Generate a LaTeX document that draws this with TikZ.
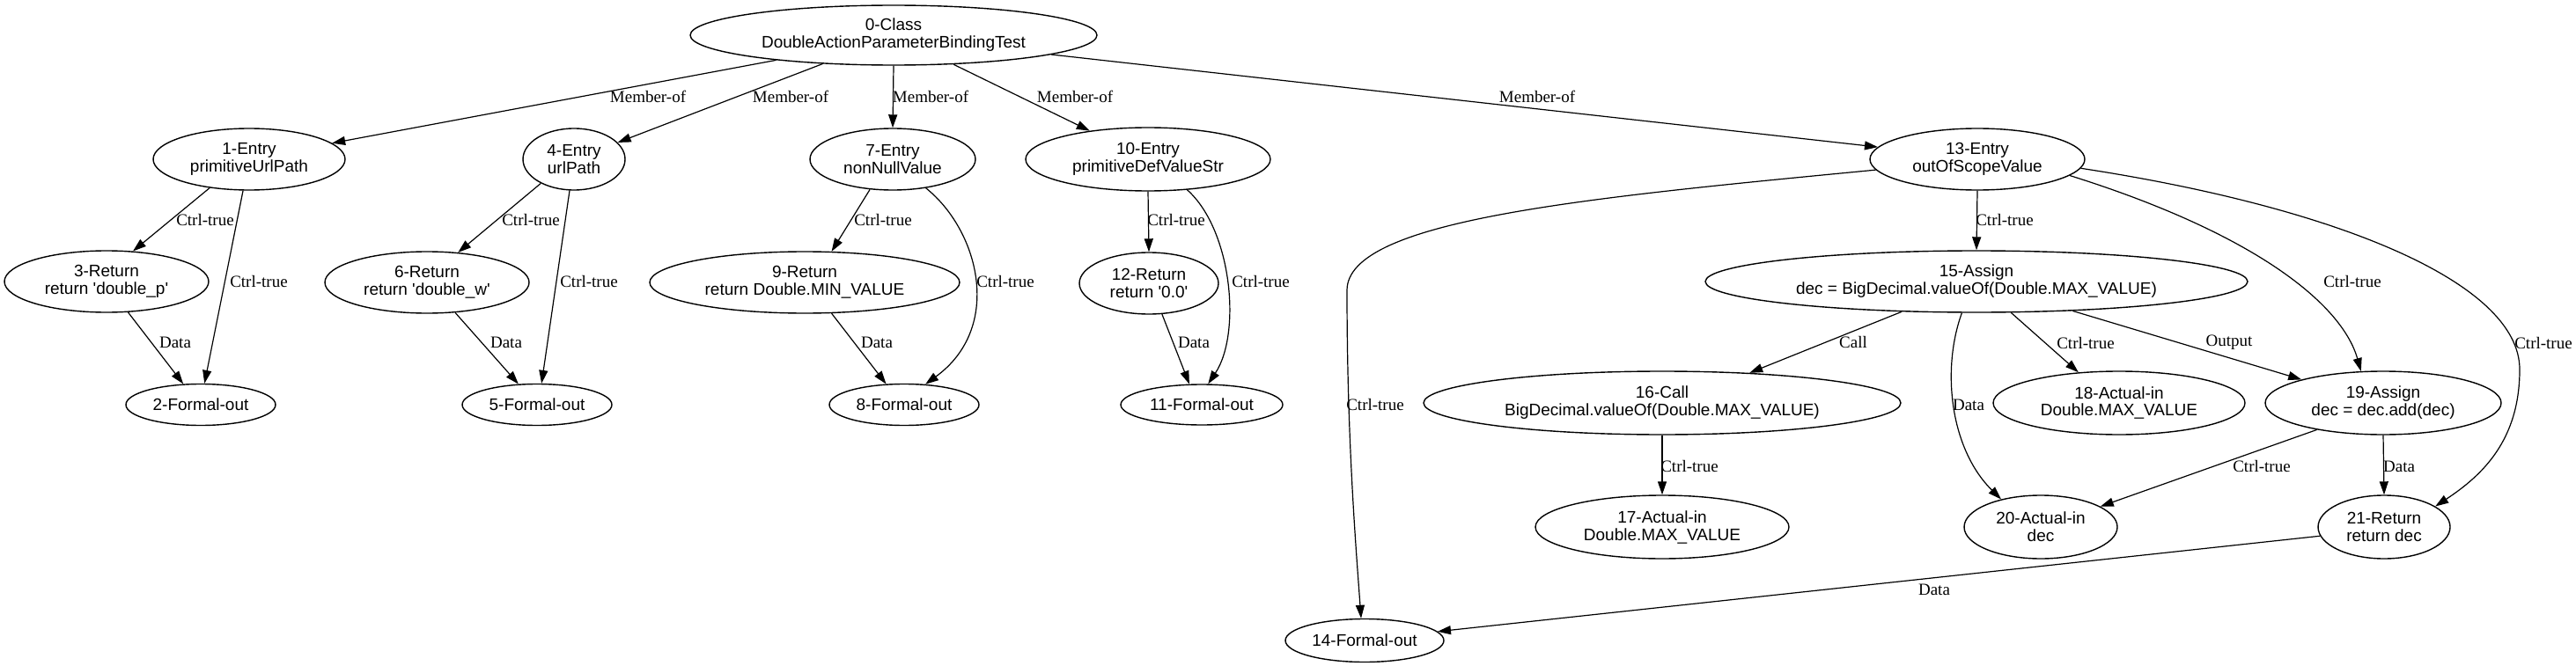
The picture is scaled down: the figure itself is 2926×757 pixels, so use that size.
\documentclass[tikz,border=0pt]{standalone}
\usepackage{fontspec}
\setmainfont{Liberation Serif}
\newfontfamily\nodefont{Liberation Sans}
\usetikzlibrary{arrows.meta,shapes.geometric}
\begin{document}
\begin{tikzpicture}[x=1pt,y=-1pt,
  nd/.style={draw, ellipse, line width=1.4pt, inner sep=0pt, align=center,
    font={\nodefont\fontsize{19}{20}\selectfont}},
  ed/.style={-{Triangle[length=15pt,width=10pt]}, line width=1.2pt},
  lb/.style={inner sep=0pt, font={\fontsize{19}{20}\selectfont}}]
\useasboundingbox (0,0) rectangle (2926,757);
% nodes
\node[nd, minimum width=462pt, minimum height=68pt] (n0) at (1015,40) {0-Class\\DoubleActionParameterBindingTest};
\node[nd, minimum width=218pt, minimum height=70pt] (n1) at (283,181) {1-Entry\\primitiveUrlPath};
\node[nd, minimum width=116pt, minimum height=70pt] (n4) at (652,181) {4-Entry\\urlPath};
\node[nd, minimum width=188pt, minimum height=70pt] (n7) at (1014,181) {7-Entry\\nonNullValue};
\node[nd, minimum width=278pt, minimum height=72pt] (n10) at (1304,181) {10-Entry\\primitiveDefValueStr};
\node[nd, minimum width=244pt, minimum height=70pt] (n13) at (2246,181) {13-Entry\\outOfScopeValue};
\node[nd, minimum width=232pt, minimum height=70pt] (n3) at (121,320) {3-Return\\return \textquotesingle double\_p\textquotesingle};
\node[nd, minimum width=232pt, minimum height=70pt] (n6) at (485,321) {6-Return\\return \textquotesingle double\_w\textquotesingle};
\node[nd, minimum width=352pt, minimum height=70pt] (n9) at (914,321) {9-Return\\return Double.MIN\_VALUE};
\node[nd, minimum width=158pt, minimum height=70pt] (n12) at (1305,322) {12-Return\\return \textquotesingle 0.0\textquotesingle};
\node[nd, minimum width=616pt, minimum height=70pt] (n15) at (2245,320) {15-Assign\\dec = BigDecimal.valueOf(Double.MAX\_VALUE)};
\node[nd, minimum width=170pt, minimum height=47pt] (n2) at (228,460) {2-Formal-out};
\node[nd, minimum width=170pt, minimum height=47pt] (n5) at (610,460) {5-Formal-out};
\node[nd, minimum width=170pt, minimum height=47pt] (n8) at (1027,460) {8-Formal-out};
\node[nd, minimum width=184pt, minimum height=46pt] (n11) at (1365,460) {11-Formal-out};
\node[nd, minimum width=542pt, minimum height=72pt] (n16) at (1888,458) {16-Call\\BigDecimal.valueOf(Double.MAX\_VALUE)};
\node[nd, minimum width=286pt, minimum height=72pt] (n18) at (2407,458) {18-Actual-in\\Double.MAX\_VALUE};
\node[nd, minimum width=268pt, minimum height=72pt] (n19) at (2707,458) {19-Assign\\dec = dec.add(dec)};
\node[nd, minimum width=288pt, minimum height=72pt] (n17) at (1888,599) {17-Actual-in\\Double.MAX\_VALUE};
\node[nd, minimum width=174pt, minimum height=72pt] (n20) at (2318,599) {20-Actual-in\\dec};
\node[nd, minimum width=150pt, minimum height=72pt] (n21) at (2708,599) {21-Return\\return dec};
\node[nd, minimum width=180pt, minimum height=49pt] (n14) at (1550,728) {14-Formal-out};
% edges
\draw[ed] (n0.192) -- (n1.11);
\draw[ed] (n0.202) -- (n4.21);
\draw[ed] (n0.south) -- (n7.north);
\draw[ed] (n0.334) -- (n10.154);
\draw[ed] (n0.353) -- (n13.173);
\draw[ed] (n1.216) -- (n3.49);
\draw[ed] (n1.259) -- (n2.80);
\draw[ed] (n3.305) -- (n2.130);
\draw[ed] (n4.216) -- (n6.44);
\draw[ed] (n4.262) -- (n5.78);
\draw[ed] (n6.313) -- (n5.132);
\draw[ed] (n7.233) -- (n9.49);
\draw[ed] (n7.319) .. controls (1112,262) and (1140,372) .. (n8.44);
\draw[ed] (n9.311) -- (n8.131);
\draw[ed] (n10.south) -- (n12.north);
\draw[ed] (n10.322) .. controls (1400,262) and (1410,380) .. (n11.73);
\draw[ed] (n12.293) -- (n11.121);
\draw[ed] (n13.south) -- (n15.north);
\draw[ed] (n13.186) .. controls (1800,225) and (1530,250) .. (1530,330)
  .. controls (1530,500) and (1540,620) .. (n14.99);
\draw[ed] (n13.350) .. controls (2560,265) and (2660,345) .. (n19.125);
\draw[ed] (n13.355) .. controls (2650,235) and (2862,320) .. (2862,420)
  .. controls (2862,500) and (2820,540) .. (n21.22);
\draw[ed] (n15.202) -- (n16.19);
\draw[ed] (n15.245) .. controls (2205,420) and (2215,510) .. (n20.145);
\draw[ed] (n15.318) -- (n18.143);
\draw[ed] (n15.343) -- (n19.164);
\draw[ed] (n16.south) -- (n17.north);
\draw[ed] (n19.202) -- (n20.19);
\draw[ed] (n19.south) -- (n21.north);
\draw[ed] (n21.188) -- (n14.7);
% labels
\node[lb] (l1) at (736,110) {Member-of};
\node[lb] (l2) at (898,110) {Member-of};
\node[lb] (l3) at (1057,110) {Member-of};
\node[lb] (l4) at (1221,110) {Member-of};
\node[lb] (l5) at (1746,110) {Member-of};
\node[lb] (l6) at (233,250) {Ctrl-true};
\node[lb] (l7) at (294,320) {Ctrl-true};
\node[lb] (l8) at (603,250) {Ctrl-true};
\node[lb] (l9) at (669,320) {Ctrl-true};
\node[lb] (l10) at (1003,250) {Ctrl-true};
\node[lb] (l11) at (1142,320) {Ctrl-true};
\node[lb] (l12) at (1336,250) {Ctrl-true};
\node[lb] (l13) at (1432,320) {Ctrl-true};
\node[lb] (l14) at (2277,250) {Ctrl-true};
\node[lb] (l15) at (2672,320) {Ctrl-true};
\node[lb] (l16) at (2889,390) {Ctrl-true};
\node[lb] (l17) at (1562,460) {Ctrl-true};
\node[lb] (l18) at (2369,390) {Ctrl-true};
\node[lb] (l19) at (1919,530) {Ctrl-true};
\node[lb] (l20) at (2569,530) {Ctrl-true};
\node[lb] (l21) at (199,389) {Data};
\node[lb] (l22) at (575,389) {Data};
\node[lb] (l23) at (996,389) {Data};
\node[lb] (l24) at (1356,389) {Data};
\node[lb] (l25) at (2236,460) {Data};
\node[lb] (l26) at (2725,530) {Data};
\node[lb] (l27) at (2197,670) {Data};
\node[lb] (l28) at (2105,389) {Call};
\node[lb] (l29) at (2532,389) {Output};
\end{tikzpicture}
\end{document}
